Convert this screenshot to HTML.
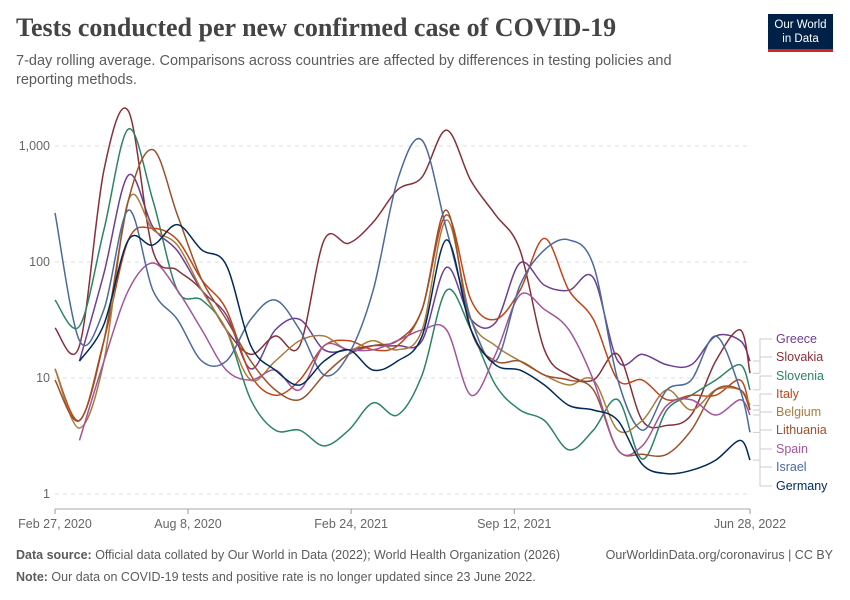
<!DOCTYPE html>
<html><head><meta charset="utf-8">
<style>
body{margin:0;background:#fff;width:850px;height:600px;overflow:hidden;font-family:"Liberation Sans",sans-serif;}
#title{position:absolute;left:16px;top:13px;font-family:"Liberation Serif",serif;font-weight:bold;font-size:26px;color:#444;}
#sub{position:absolute;left:16px;top:52px;width:700px;font-size:14.5px;color:#5b5b5b;line-height:19px;}
#logo{position:absolute;left:768px;top:14px;width:65px;height:38px;background:#002147;color:#fff;font-size:11.5px;text-align:center;line-height:14px;padding-top:4px;box-sizing:border-box;border-bottom:3px solid #ce261e;}
.foot{position:absolute;font-size:12.5px;color:#5b5b5b;}
</style></head><body>
<div id="title">Tests conducted per new confirmed case of COVID-19</div>
<div id="sub">7-day rolling average. Comparisons across countries are affected by differences in testing policies and reporting methods.</div>
<div id="logo">Our World<br>in Data</div>
<svg id="chart" width="850" height="600" style="position:absolute;left:0;top:0"></svg>
<div class="foot" style="left:16px;top:548px"><b>Data source:</b> Official data collated by Our World in Data (2022); World Health Organization (2026)</div>
<div class="foot" style="right:17px;top:548px">OurWorldinData.org/coronavirus | CC BY</div>
<div class="foot" style="left:16px;top:570px"><b>Note:</b> Our data on COVID-19 tests and positive rate is no longer updated since 23 June 2022.</div>
<script>
const days=[0,30,60,90,120,150,180,210,240,270,300,330,360,390,420,450,480,510,540,570,600,630,660,690,720,750,780,810,840,852];
const greece=[null,14,80,560,200,125,57,35,12,26,32,17.5,17.5,19,19,21,90,32,30,98,63,57,73,14,16,13,13,23,21,14];
const slovakia=[27,19,620,2000,125,85,57,26,16,23,19,155,145,220,420,540,1370,500,255,127,17.5,10.6,9.6,16,4.3,3.9,4.8,14,26,11];
const slovenia=[47,28,190,1400,340,57,47,26,6.5,3.55,3.55,2.6,3.55,6.1,4.8,10.6,57,26,8.7,5.3,4.3,2.4,3.55,6.5,2,5.3,7.1,9.6,13,7.9];
const italy=[12,4.3,21,155,195,155,70,39,10.6,7.1,9.6,19,21,17.5,19,39,255,47,32,57,160,57,32,9.6,9.6,6.5,7.1,7.1,9.6,5.3];
const belgium=[12,3.7,14,340,190,140,57,26,9.6,14,21,23,17.5,21,17.5,26,230,32,19,14,10.6,8.7,9.6,3.55,4.3,7.9,5.3,7.9,7.9,5.8];
const lithuania=[9.6,4.3,21,340,930,255,70,32,14,7.9,6.5,10.6,16,19,21,39,280,26,14,14,10.6,9.6,7.9,2.4,2.2,2.2,3.55,7.9,7.9,5.3];
const spain=[null,2.9,14,57,98,57,26,11.7,9.6,11.7,7.9,19,17.5,17.5,21,26,26,7.1,16,52,39,26,9.6,2.4,2.6,5.8,6.5,4.8,6.5,4.8];
const israel=[265,21,39,280,57,32,14,14,32,47,26,10.6,16,57,510,1120,190,32,14,63,127,155,94,9.6,3.55,7.9,9.6,23,7.9,3.4];
const germany=[null,14,29,155,140,210,127,94,19,11.7,8.7,14,17.5,11.7,14,23,155,26,13,11.7,8.7,5.8,5.3,4.3,1.8,1.5,1.6,1.96,2.9,1.96];
const seriesNames=["Greece","Slovakia","Slovenia","Italy","Belgium","Lithuania","Spain","Israel","Germany"];
const seriesData=[greece,slovakia,slovenia,italy,belgium,lithuania,spain,israel,germany];
const colors=["#6D3E91","#883039","#2C8465","#C0461A","#A97C3C","#9A5129","#A2559C","#4C6A9C","#00295B"];
const yTicks=[1,10,100,1000];
const yTickLabels=["1","10","100","1,000"];
const xTickDays=[0,163,363,563,852];
const xTickLabels=["Feb 27, 2020","Aug 8, 2020","Feb 24, 2021","Sep 12, 2021","Jun 28, 2022"];

const NS="http://www.w3.org/2000/svg";
const svg=document.getElementById('chart');
const X0=55,X1=750,Y1=494,PD=116;
const xS=d=>X0+(X1-X0)*d/852;
const yS=v=>Y1-PD*Math.log10(v);
function mk(t,a){const e=document.createElementNS(NS,t);for(const k in a)e.setAttribute(k,a[k]);svg.appendChild(e);return e;}
yTicks.forEach((t,i)=>{
  const g=mk('line',{x1:X0,x2:X1,y1:yS(t),y2:yS(t),stroke:'#ddd','stroke-dasharray':'4,4'});
  
  
  const l=mk('text',{x:50,y:yS(t)+4,'text-anchor':'end','font-size':'12.5',fill:'#666'});
  l.textContent=yTickLabels[i];
  
  
});
const ax=mk('line',{x1:X0,x2:X1,y1:509,y2:509,stroke:'#aaa'});


xTickDays.forEach((d,i)=>{
  const t=mk('line',{x1:xS(d),x2:xS(d),y1:509,y2:514,stroke:'#999'});
  
  
  const l=mk('text',{x:xS(d),y:528,'text-anchor':'middle','font-size':'12.5',fill:'#666'});
  l.textContent=xTickLabels[i];
  
  
});
function pathFor(arr){
  const pts=[];arr.forEach((v,i)=>{if(v!=null)pts.push([xS(days[i]),yS(v)]);});
  let d='M'+pts[0][0]+','+pts[0][1];
  for(let i=0;i<pts.length-1;i++){
    const p0=pts[Math.max(0,i-1)],p1=pts[i],p2=pts[i+1],p3=pts[Math.min(pts.length-1,i+2)];
    const c1=[p1[0]+(p2[0]-p0[0])/6,p1[1]+(p2[1]-p0[1])/6],c2=[p2[0]-(p3[0]-p1[0])/6,p2[1]-(p3[1]-p1[1])/6];
    d+=' C'+c1+' '+c2+' '+p2;
  }
  return {d,last:pts[pts.length-1]};
}
const labelY=[343,361,380,398,416,434,453,471,490];
seriesData.forEach((arr,i)=>{
  const r=pathFor(arr);
  const p=mk('path',{d:r.d,fill:'none',stroke:colors[i],'stroke-width':1.5});
  
  
  const c=mk('polyline',{points:[r.last[0]+3,r.last[1],760,r.last[1],760,labelY[i]-4,772,labelY[i]-4].join(' '),fill:'none',stroke:'#ccc'});
  
  
  const t=mk('text',{x:776,y:labelY[i],'font-size':'12.5',fill:colors[i]});
  t.textContent=seriesNames[i];
  
  
});
</script>
</body></html>
